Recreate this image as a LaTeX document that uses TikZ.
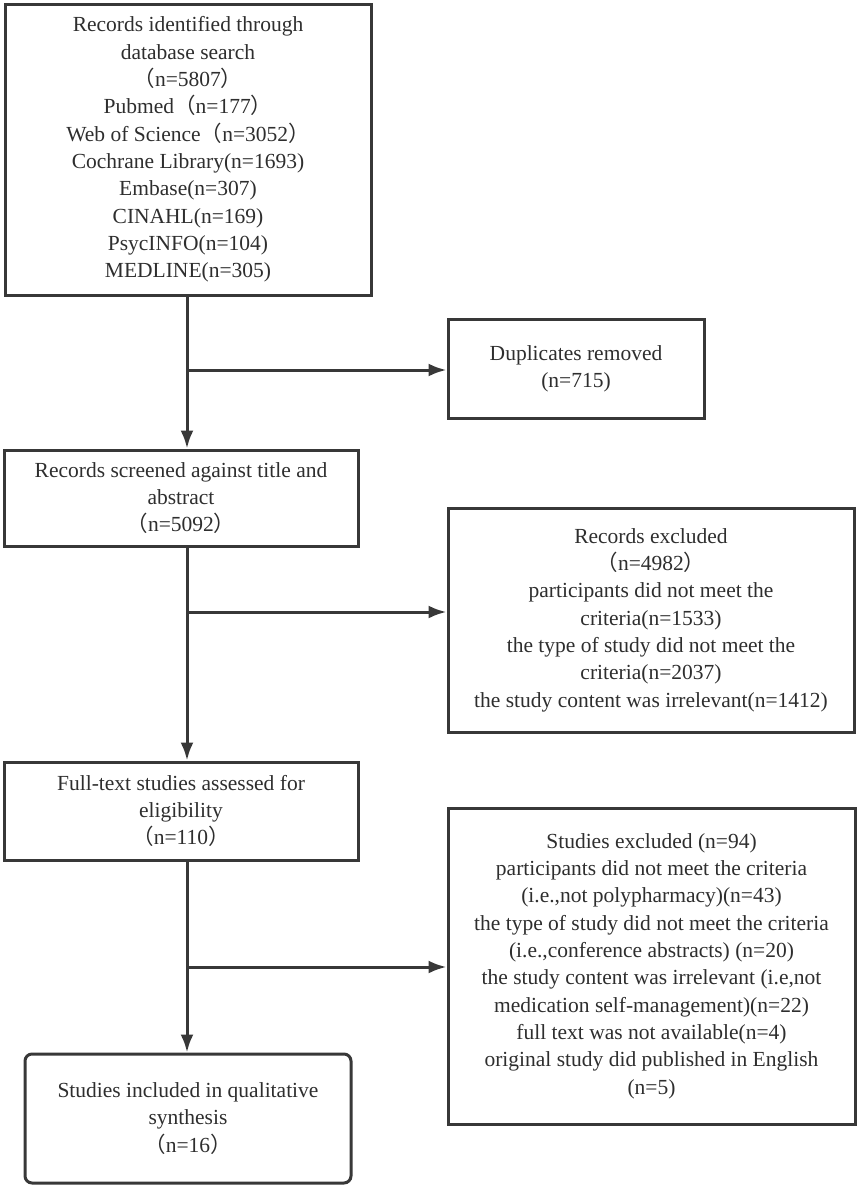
\documentclass[tikz,border=0pt]{standalone}
\usepackage{fontspec}
\setmainfont{Liberation Serif}
\newfontfamily\cjk{Noto Sans CJK SC}
\usetikzlibrary{arrows.meta}
\definecolor{framegray}{HTML}{383838}
\definecolor{textgray}{HTML}{2E2E2E}
\newcommand{\fwopen}{{\cjk （}}
\newcommand{\fwclose}{{\cjk ）}}
\tikzset{
  box/.style      = {shape=rectangle, draw=framegray, line width=3pt,
                     align=center, text=textgray, inner sep=0pt,
                     font=\fontsize{21.5}{27.3}\selectfont},
  roundbox/.style = {box, rounded corners=7pt},
  flow/.style     = {draw=framegray, line width=3pt},
  flowarrow/.style = {flow, -{Latex[length=18pt,width=13pt]}}
}
\begin{document}
\begin{tikzpicture}[x=1pt, y=1pt]
  \useasboundingbox (0,0) rectangle (858,-1189);
  \node [box, minimum width=366pt, minimum height=291pt] (search) at (188,-149.5)
    {Records identified through\\database search\\\fwopen n=5807\fwclose\\
     Pubmed\fwopen n=177\fwclose\\Web of Science\fwopen n=3052\fwclose\\
     Cochrane Library(n=1693)\\Embase(n=307)\\CINAHL(n=169)\\
     PsycINFO(n=104)\\MEDLINE(n=305)};
  \node [box, minimum width=256pt, minimum height=99pt] (dup) at (576,-368.5)
    {Duplicates removed\\(n=715)};
  \node [box, minimum width=354pt, minimum height=96pt] (screen) at (181,-498)
    {Records screened against title and\\abstract\\\fwopen n=5092\fwclose};
  \node [box, minimum width=406pt, minimum height=224pt] (recexcl) at (651,-620)
    {Records excluded\\\fwopen n=4982\fwclose\\participants did not meet the\\
     criteria(n=1533)\\the type of study did not meet the\\criteria(n=2037)\\
     the study content was irrelevant(n=1412)};
  \node [box, minimum width=354pt, minimum height=98pt] (full) at (181,-811)
    {Full-text studies assessed for\\eligibility\\\fwopen n=110\fwclose};
  \node [box, minimum width=407pt, minimum height=316pt] (studexcl) at (651.5,-966)
    {Studies excluded (n=94)\\participants did not meet the criteria\\
     (i.e.,not polypharmacy)(n=43)\\the type of study did not meet the criteria\\
     (i.e.,conference abstracts) (n=20)\\the study content was irrelevant (i.e,not\\
     medication self-management)(n=22)\\full text was not available(n=4)\\
     original study did published in English\\(n=5)};
  \node [roundbox, minimum width=326pt, minimum height=129pt] (incl) at (188,-1118.5)
    {Studies included in qualitative\\synthesis\\\fwopen n=16\fwclose};

  \coordinate (split1) at (187,-370);
  \coordinate (split2) at (187,-612);
  \coordinate (split3) at (187,-967);

  \draw [flowarrow] (search.south -| split1) -- (screen.north -| split1);
  \draw [flowarrow] (split1) -- (split1 -| dup.west);
  \draw [flowarrow] (screen.south -| split2) -- (full.north -| split2);
  \draw [flowarrow] (split2) -- (split2 -| recexcl.west);
  \draw [flowarrow] (full.south -| split3) -- (incl.north -| split3);
  \draw [flowarrow] (split3) -- (split3 -| studexcl.west);
\end{tikzpicture}
\end{document}
